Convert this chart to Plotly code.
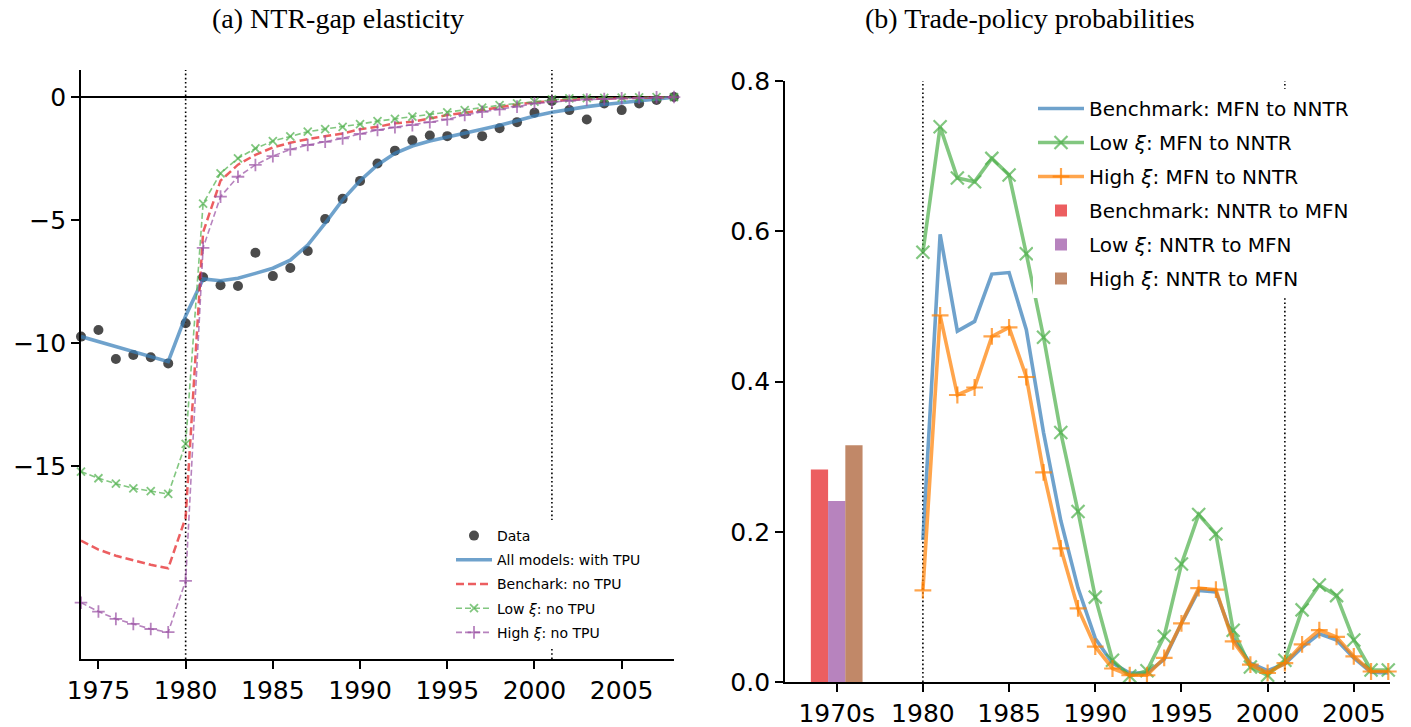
import plotly.graph_objects as go

# ---------------- data: panel (a) ----------------
years_a = list(range(1974, 2009))
data_pts = [-9.74, -9.47, -10.65, -10.49, -10.58, -10.83, -9.2, -7.33, -7.65, -7.68,
            -6.33, -7.28, -6.95, -6.26, -4.96, -4.14, -3.41, -2.70, -2.18, -1.76,
            -1.56, -1.59, -1.50, -1.59, -1.27, -1.02, -0.64, -0.16, -0.53, -0.91,
            -0.26, -0.53, -0.26, -0.12, 0.0]
with_tpu = [-9.74, -9.95, -10.15, -10.35, -10.55, -10.76, -8.9, -7.4, -7.47, -7.37,
            -7.17, -6.96, -6.63, -6.02, -5.13, -4.18, -3.40, -2.76, -2.29, -1.99,
            -1.79, -1.64, -1.48, -1.31, -1.15, -0.96, -0.77, -0.62, -0.49, -0.39,
            -0.30, -0.22, -0.14, -0.07, -0.01]
bench_no_tpu = [-18.04, -18.4, -18.65, -18.85, -19.02, -19.16, -17.1, -5.5, -3.4, -2.75,
                -2.35, -2.05, -1.86, -1.71, -1.59, -1.48, -1.31, -1.21, -1.07, -1.0,
                -0.87, -0.73, -0.64, -0.53, -0.39, -0.30, -0.22, -0.15, -0.11, -0.08,
                -0.06, -0.04, -0.02, -0.01, 0.0]
low_no_tpu = [-15.23, -15.5, -15.72, -15.91, -16.02, -16.14, -14.1, -4.33, -3.10, -2.49,
              -2.09, -1.79, -1.60, -1.41, -1.30, -1.21, -1.10, -0.98, -0.89, -0.80,
              -0.73, -0.62, -0.53, -0.43, -0.33, -0.26, -0.19, -0.09, -0.05, -0.04,
              -0.03, -0.02, -0.01, 0.0, 0.0]
high_no_tpu = [-20.56, -20.92, -21.22, -21.42, -21.63, -21.76, -19.67, -6.13, -4.05, -3.24,
               -2.76, -2.40, -2.13, -1.95, -1.82, -1.68, -1.50, -1.34, -1.23, -1.14,
               -1.02, -0.91, -0.73, -0.60, -0.50, -0.39, -0.26, -0.19, -0.15, -0.10,
               -0.08, -0.05, -0.03, -0.01, 0.0]
ticks_a = [1975, 1980, 1985, 1990, 1995, 2000, 2005]
yticks_a = [0, -5, -10, -15]
yticklabels_a = ["0", "\u22125", "\u221210", "\u221215"]

# ---------------- data: panel (b) ----------------
years_b = list(range(1980, 2008))
bench_mfn = [0.189, 0.596, 0.467, 0.480, 0.543, 0.545, 0.469, 0.332, 0.215, 0.125,
             0.058, 0.025, 0.012, 0.012, 0.030, 0.078, 0.122, 0.120, 0.058, 0.025,
             0.015, 0.024, 0.046, 0.064, 0.056, 0.032, 0.013, 0.012]
low_mfn = [0.572, 0.739, 0.671, 0.666, 0.697, 0.675, 0.570, 0.459, 0.332, 0.227,
           0.113, 0.029, 0.008, 0.015, 0.061, 0.157, 0.223, 0.197, 0.069, 0.020,
           0.009, 0.029, 0.096, 0.129, 0.115, 0.056, 0.016, 0.016]
high_mfn = [0.122, 0.488, 0.382, 0.392, 0.460, 0.472, 0.406, 0.279, 0.178, 0.098,
            0.047, 0.018, 0.009, 0.009, 0.032, 0.078, 0.125, 0.123, 0.054, 0.023,
            0.012, 0.025, 0.050, 0.069, 0.060, 0.034, 0.014, 0.014]
bar_pos = 1975   # the "1970s" slot
bar_names = ["Benchmark: NNTR to MFN", "Low <i>\u03be</i>: NNTR to MFN", "High <i>\u03be</i>: NNTR to MFN"]
bar_vals = [0.283, 0.241, 0.315]
ticks_b = [1975, 1980, 1985, 1990, 1995, 2000, 2005]
ticklabels_b = ["1970s", "1980", "1985", "1990", "1995", "2000", "2005"]
yticks_b = [0.0, 0.2, 0.4, 0.6, 0.8]
vlines = [1980, 2001]

# ---------------- styling ----------------
BLUE = "rgba(55,126,184,0.72)"
RED = "rgba(228,26,28,0.7)"
GREEN = "rgba(77,175,74,0.7)"
PURPLE = "rgba(152,78,163,0.7)"
ORANGE = "rgba(255,127,0,0.7)"
BROWN = "rgba(166,86,40,0.7)"
W, H = 1411, 727
TICKFONT = dict(family="DejaVu Sans", size=25, color="black")
TITLEFONT = dict(family="Liberation Serif", size=28, color="black")

fig = go.Figure()

# panel (a)
fig.add_trace(go.Scatter(x=years_a, y=data_pts, mode="markers", name="Data",
                         marker=dict(color="rgba(55,55,55,0.9)", size=10),
                         xaxis="x", yaxis="y", legend="legend", legendgroup="a1", cliponaxis=False))
fig.add_trace(go.Scatter(x=years_a, y=with_tpu, mode="lines", name="All models: with TPU",
                         line=dict(color=BLUE, width=3.6),
                         xaxis="x", yaxis="y", legend="legend", legendgroup="a2", cliponaxis=False))
fig.add_trace(go.Scatter(x=years_a, y=bench_no_tpu, mode="lines", name="Benchark: no TPU",
                         line=dict(color=RED, width=2.5, dash="8px,4px"),
                         xaxis="x", yaxis="y", legend="legend", legendgroup="a3", cliponaxis=False))
fig.add_trace(go.Scatter(x=years_a, y=low_no_tpu, mode="lines+markers", name="Low <i>\u03be</i>: no TPU",
                         line=dict(color=GREEN, width=1.6, dash="6px,3px"),
                         marker=dict(symbol="x-thin", size=8, line=dict(color=GREEN, width=1.8)),
                         xaxis="x", yaxis="y", legend="legend", legendgroup="a4", cliponaxis=False))
fig.add_trace(go.Scatter(x=years_a, y=high_no_tpu, mode="lines+markers", name="High <i>\u03be</i>: no TPU",
                         line=dict(color=PURPLE, width=1.6, dash="6px,3px"),
                         marker=dict(symbol="cross-thin", size=9, line=dict(color=PURPLE, width=1.8)),
                         xaxis="x", yaxis="y", legend="legend", legendgroup="a5", cliponaxis=False))

# panel (b)
fig.add_trace(go.Scatter(x=years_b, y=bench_mfn, mode="lines", name="Benchmark: MFN to NNTR",
                         line=dict(color=BLUE, width=3.6),
                         xaxis="x2", yaxis="y2", legend="legend2", legendgroup="b1", cliponaxis=False))
fig.add_trace(go.Scatter(x=years_b, y=low_mfn, mode="lines+markers", name="Low <i>\u03be</i>: MFN to NNTR",
                         line=dict(color=GREEN, width=3.6),
                         marker=dict(symbol="x-thin", size=13, line=dict(color=GREEN, width=2.2)),
                         xaxis="x2", yaxis="y2", legend="legend2", legendgroup="b2", cliponaxis=False))
fig.add_trace(go.Scatter(x=years_b, y=high_mfn, mode="lines+markers", name="High <i>\u03be</i>: MFN to NNTR",
                         line=dict(color=ORANGE, width=3.6),
                         marker=dict(symbol="cross-thin", size=12, line=dict(color=ORANGE, width=2.2)),
                         xaxis="x2", yaxis="y2", legend="legend2", legendgroup="b3", cliponaxis=False))
for i, (nm, v, c) in enumerate(zip(bar_names, bar_vals, [RED, PURPLE, BROWN])):
    fig.add_trace(go.Bar(x=[bar_pos], y=[v], name=nm, width=1.0, offset=-1.5 + i,
                         marker=dict(color=c, line=dict(width=0)),
                         xaxis="x2", yaxis="y2", legend="legend2", legendgroup="b%d" % (4 + i)))

# dotted reference lines
for xr, yr in [("x", "y domain"), ("x2", "y2 domain")]:
    for xv in vlines:
        fig.add_shape(type="line", xref=xr, yref=yr, x0=xv, x1=xv, y0=0, y1=1,
                      line=dict(color="black", width=1.6, dash="1.6px,2.6px"), layer="below")

axis_common = dict(showline=True, linecolor="black", linewidth=1.8, ticks="outside",
                   ticklen=8, tickwidth=1.6, tickcolor="black", showgrid=False,
                   tickfont=TICKFONT, mirror=False, automargin=False)

fig.update_layout(
    width=W, height=H,
    margin=dict(l=0, r=0, t=0, b=0, autoexpand=False),
    paper_bgcolor="white", plot_bgcolor="white",
    barmode="overlay",
    xaxis=dict(domain=[81 / W, 674 / W], anchor="y", range=[1974, 2008],
               tickvals=ticks_a, zeroline=False, **axis_common),
    yaxis=dict(domain=[(H - 659) / H, (H - 70) / H], anchor="x", range=[-22.85, 1.1],
               tickvals=yticks_a, ticktext=yticklabels_a, zeroline=True,
               zerolinecolor="black", zerolinewidth=1.6, **axis_common),
    xaxis2=dict(domain=[785 / W, 1390 / W], anchor="y2", range=[1972, 2007.1],
                tickvals=ticks_b, ticktext=ticklabels_b, zeroline=False, **axis_common),
    yaxis2=dict(domain=[(H - 682) / H, (H - 81) / H], anchor="x2", range=[0, 0.8],
                tickvals=yticks_b, tickformat=".1f", zeroline=False, **axis_common),
    legend=dict(x=451 / W, y=1 - 520 / H, xanchor="left", yanchor="top",
                bgcolor="white", borderwidth=0, itemwidth=36, tracegroupgap=3,
                traceorder="grouped", font=dict(family="DejaVu Sans", size=14, color="black")),
    legend2=dict(x=1033 / W, y=1 - 89 / H, xanchor="left", yanchor="top",
                 bgcolor="white", borderwidth=0, itemwidth=46, tracegroupgap=5,
                 traceorder="grouped", font=dict(family="DejaVu Sans", size=20, color="black")),
    annotations=[
        dict(text="(a) NTR-gap elasticity", x=338 / W, y=1 - 18 / H, xref="paper", yref="paper",
             showarrow=False, xanchor="center", yanchor="middle", font=TITLEFONT),
        dict(text="(b) Trade-policy probabilities", x=1030 / W, y=1 - 18 / H, xref="paper", yref="paper",
             showarrow=False, xanchor="center", yanchor="middle", font=TITLEFONT),
    ],
)

fig.write_html("out.html")
